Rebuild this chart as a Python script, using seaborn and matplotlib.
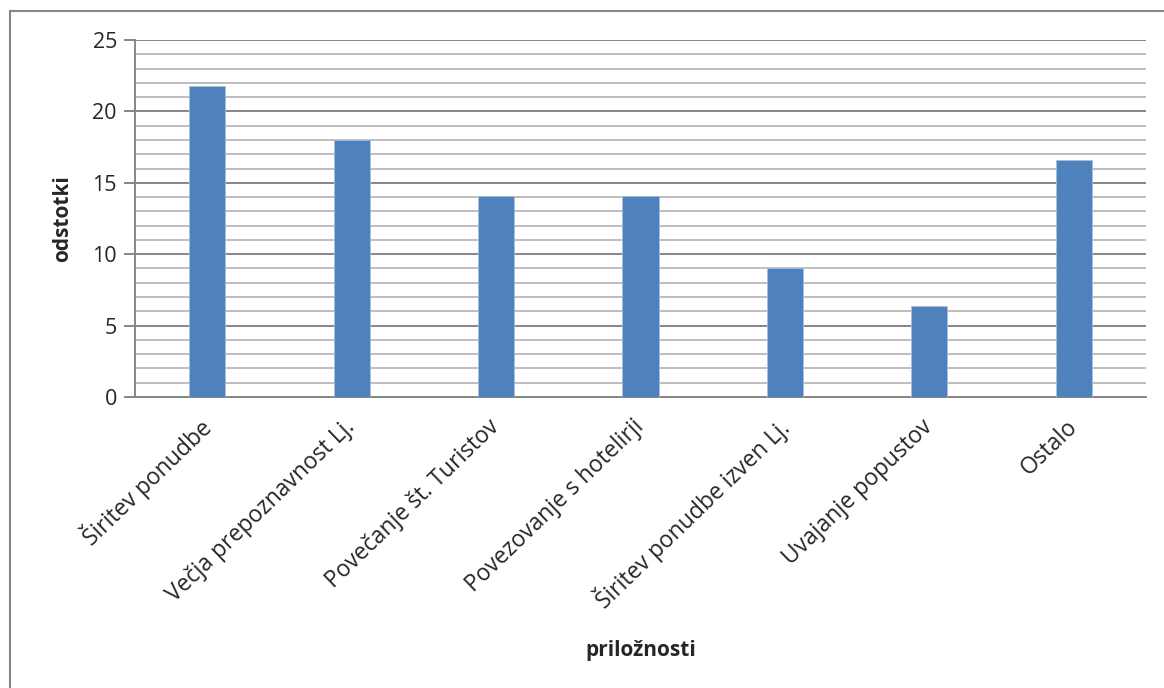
import matplotlib
matplotlib.use("Agg")
import matplotlib.pyplot as plt
from matplotlib.patches import Rectangle
from matplotlib.ticker import MultipleLocator
import seaborn as sns
import pandas as pd

categories = [
    "Širitev ponudbe",
    "Večja prepoznavnost Lj.",
    "Povečanje št. Turistov",
    "Povezovanje s hotelirji",
    "Širitev ponudbe izven Lj.",
    "Uvajanje popustov",
    "Ostalo",
]
values = [21.8, 18.0, 14.1, 14.1, 9.0, 6.4, 16.6]
y_ticks = [0, 5, 10, 15, 20, 25]

df = pd.DataFrame({"priložnosti": categories, "odstotki": values})

sns.set_theme(style="white")
plt.rcParams["font.family"] = ["Open Sans", "DejaVu Sans"]

W, H = 1164, 688
fig = plt.figure(figsize=(W / 100, H / 100), dpi=100)
ax = fig.add_axes([135 / W, 1 - 397 / H, (1146 - 135) / W, (397 - 40) / H])

sns.barplot(data=df, x="priložnosti", y="odstotki", color="#4F81BD",
            width=0.25, saturation=1, edgecolor="#A7C0DE", linewidth=0.6,
            ax=ax, zorder=3)

ax.set_ylim(0, 25)
ax.set_xlim(-0.5, len(categories) - 0.5)
ax.set_yticks(y_ticks)
ax.yaxis.set_minor_locator(MultipleLocator(1))
ax.grid(which="major", axis="y", color="#868686", linewidth=1.4, zorder=0)
ax.grid(which="minor", axis="y", color="#BEBEBE", linewidth=1.4, zorder=0)
ax.set_axisbelow(True)

for side in ("top", "right"):
    ax.spines[side].set_visible(False)
for side in ("left", "bottom"):
    ax.spines[side].set_color("#868686")
    ax.spines[side].set_linewidth(1.4)

ax.tick_params(axis="y", which="major", left=True, length=8, width=1.4,
               color="#868686", labelsize=15.5, pad=5)
ax.tick_params(axis="y", which="minor", left=False)
ax.tick_params(axis="x", bottom=False, labelsize=16.5, pad=13)
for lbl in ax.get_xticklabels():
    lbl.set_rotation(44)
    lbl.set_ha("right")
    lbl.set_va("center")
    lbl.set_rotation_mode("anchor")

ax.set_ylabel("odstotki", fontsize=15, fontweight="bold")
ax.set_xlabel("priložnosti", fontsize=15, fontweight="bold")
ax.yaxis.set_label_coords(-0.072, 0.5)
ax.xaxis.set_label_coords(0.5, -0.711)
ax.xaxis.label.set_va("center")
ax.yaxis.label.set_va("center")

# chart frame
fig.patches.append(Rectangle((9.5 / W, -0.1), 1.2, 1 - 10.5 / H + 0.1,
                             transform=fig.transFigure, fill=False,
                             edgecolor="#868686", linewidth=1.5))

fig.savefig("out.png", dpi=100)
